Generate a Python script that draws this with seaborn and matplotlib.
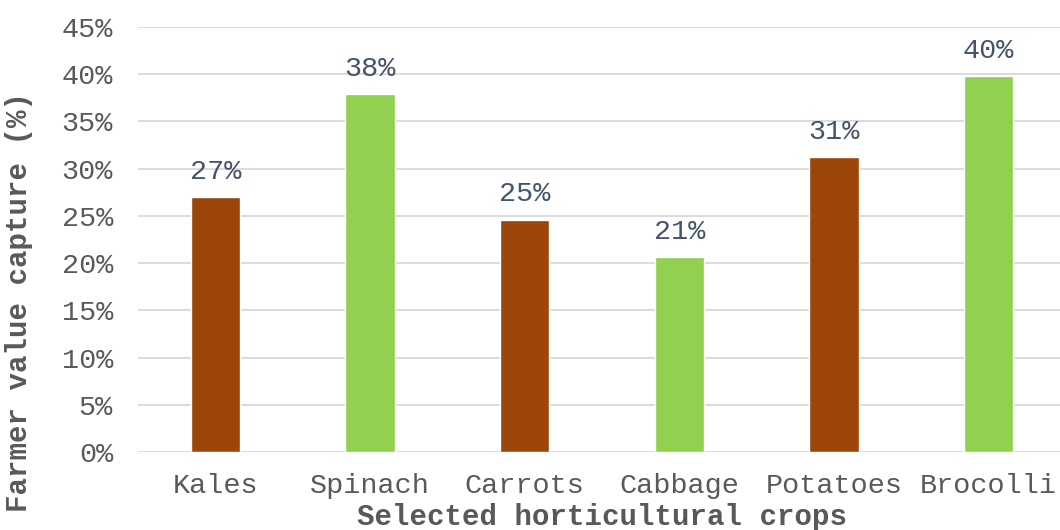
import matplotlib
matplotlib.use("Agg")
import matplotlib.pyplot as plt
import seaborn as sns
import pandas as pd
from matplotlib.ticker import PercentFormatter

# Share of final value captured by farmers, per crop
crops = ["Kales", "Spinach", "Carrots", "Cabbage", "Potatoes", "Brocolli"]
capture = [0.27, 0.379, 0.246, 0.206, 0.312, 0.398]
bar_colors = ["#9C460B", "#92D050", "#9C460B", "#92D050", "#9C460B", "#92D050"]
y_ticks = [0.0, 0.05, 0.10, 0.15, 0.20, 0.25, 0.30, 0.35, 0.40, 0.45]

df = pd.DataFrame({"crop": crops, "capture": capture})

sns.set_theme(style="white")
plt.rcParams["font.family"] = ["Liberation Mono", "DejaVu Sans Mono"]

fig = plt.figure(figsize=(10.6, 5.3), dpi=100)
ax = fig.add_axes([0.1302, 0.1472, 0.8755, 0.8018])

sns.barplot(data=df, x="crop", y="capture", hue="crop", palette=bar_colors,
            width=0.32, legend=False, ax=ax, saturation=1)

ax.set_ylim(0, 0.45)
ax.set_yticks(y_ticks)
ax.yaxis.set_major_formatter(PercentFormatter(1.0, decimals=0))
ax.set_xlim(-0.5, len(crops) - 0.5)

ax.grid(axis="y", color="#D9D9D9", linewidth=1.3)
ax.set_axisbelow(True)
for s in ax.spines.values():
    s.set_visible(False)

ax.tick_params(axis="both", length=0, labelsize=20.5, labelcolor="#595959")
ax.tick_params(axis="y", pad=18)
ax.tick_params(axis="x", pad=15)

for cont in ax.containers:
    ax.bar_label(cont, labels=[f"{v:.0%}" for v in cont.datavalues],
                 padding=9, fontsize=20.5, color="#44546A")

ax.set_xlabel("Selected horticultural crops", fontsize=21, fontweight="bold",
              color="#595959")
ax.set_ylabel("Farmer value capture (%)", fontsize=21, fontweight="bold",
              color="#595959")
ax.xaxis.set_label_coords(0.5, -0.119)
ax.yaxis.set_label_coords(-0.113, 0.353)

fig.savefig("out.png", dpi=100)
